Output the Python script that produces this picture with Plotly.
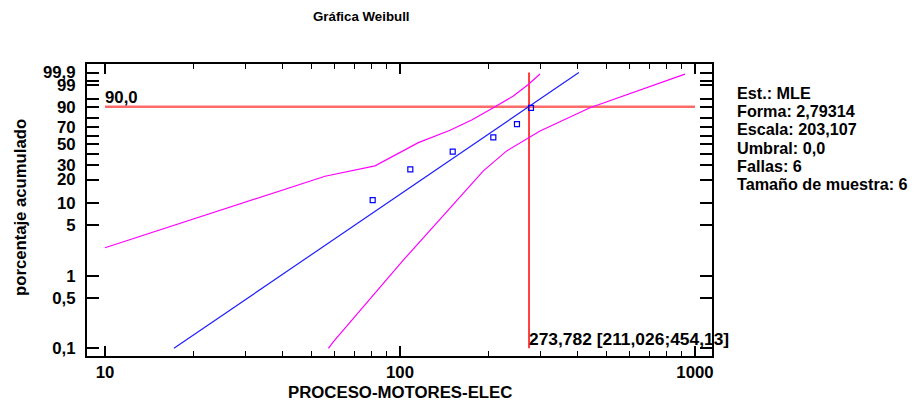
import numpy as np
import plotly.graph_objects as go

# ---- data ----
obs_x = [80.8, 108.4, 150.9, 207.2, 249.2, 278.0]
obs_pct = [10.9, 26.6, 42.2, 57.8, 73.4, 89.1]

fit_x = [17.13, 404.0]
fit_pct = [0.1, 99.9]

upper_x = [10.0, 55.7, 82.3, 115.4, 147.8, 175.0, 207.2, 242.2, 272.2, 298.3]
upper_pct = [2.48, 22.0, 29.3, 51.8, 66.2, 77.8, 89.3, 96.1, 99.1, 99.86]

lower_x = [57.2, 59.4, 102.6, 191.7, 230.0, 298.3, 440.6, 924.8]
lower_pct = [0.1, 0.123, 1.67, 25.6, 42.9, 65.4, 89.3, 99.86]

ref_pct = 90.0
ref_x = 273.782
ref_x_span = [10, 1000]
ref_pct_span = [0.1, 99.9]

y_tick_pct = [0.1, 0.5, 1, 5, 10, 20, 30, 40, 50, 60, 70, 80, 90, 95, 99, 99.5, 99.9]
y_tick_text = ["0,1", "0,5", "1", "5", "10", "20", "30", "", "50", "", "70", "", "90", "", "99", "", "99,9"]
x_tick_vals = [10, 100, 1000]
x_tick_text = ["10", "100", "1000"]
x_minor_vals = [v * m for m in (10, 100) for v in range(2, 10)]

stats_lines = ["Est.: MLE", "Forma: 2,79314", "Escala: 203,107", "Umbral: 0,0",
               "Fallas: 6", "Tamaño de muestra: 6"]


def wy(pct):
    p = np.asarray(pct, dtype=float) / 100.0
    return np.log(-np.log(1.0 - p))


FONT = "Liberation Sans, Arial, sans-serif"
FS = 16.8
fig = go.Figure()

fig.add_trace(go.Scatter(x=ref_x_span, y=wy([ref_pct, ref_pct]), mode="lines",
                         line=dict(color="#ff6b6b", width=2.5), hoverinfo="skip"))
fig.add_trace(go.Scatter(x=[ref_x, ref_x], y=wy(ref_pct_span), mode="lines",
                         line=dict(color="#ff0000", width=1.5), hoverinfo="skip"))
fig.add_trace(go.Scatter(x=upper_x, y=wy(upper_pct), mode="lines",
                         line=dict(color="#ff00ff", width=1.2)))
fig.add_trace(go.Scatter(x=lower_x, y=wy(lower_pct), mode="lines",
                         line=dict(color="#ff00ff", width=1.2)))
fig.add_trace(go.Scatter(x=fit_x, y=wy(fit_pct), mode="lines",
                         line=dict(color="#1f1fff", width=1.2)))
fig.add_trace(go.Scatter(x=obs_x, y=wy(obs_pct), mode="markers",
                         marker=dict(symbol="square-open", size=5, color="#0000ff",
                                     line=dict(width=1.2, color="#0000ff"))))

L, R, T, B = 87, 712, 64, 356
W, H = 921, 404
pw, ph = R - L, B - T


def px_x(px):
    return (px - L) / pw


def px_y(py):
    return (B - py) / ph


ann = []
ann.append(dict(text="Gráfica Weibull", x=px_x(361), y=px_y(17), xref="paper", yref="paper",
                showarrow=False, xanchor="center", yanchor="middle",
                font=dict(size=13.3, family=FONT, color="black", weight="bold")))
ann.append(dict(text="PROCESO-MOTORES-ELEC", x=px_x(400), y=px_y(392), xref="paper", yref="paper",
                showarrow=False, xanchor="center", yanchor="middle",
                font=dict(size=16.8, family=FONT, color="black", weight="bold")))
ann.append(dict(text="porcentaje acumulado", x=px_x(20), y=px_y(208), xref="paper", yref="paper",
                showarrow=False, xanchor="center", yanchor="middle", textangle=-90,
                font=dict(size=16.7, family=FONT, color="black", weight="bold")))
for i, s in enumerate(stats_lines):
    ann.append(dict(text=s, x=px_x(735), y=px_y(93 + i * 18.2), xref="paper", yref="paper",
                    showarrow=False, xanchor="left", yanchor="middle",
                    font=dict(size=16.2, family=FONT, color="black", weight="bold")))
ann.append(dict(text="90,0", x=np.log10(ref_x_span[0]), y=float(wy(ref_pct)), xref="x", yref="y",
                showarrow=False, xanchor="left", yanchor="bottom", xshift=-2, yshift=-2,
                font=dict(size=FS, family=FONT, color="black", weight="bold")))
ann.append(dict(text="273,782 [211,026;454,13]", x=np.log10(ref_x), y=px_y(339), xref="x", yref="paper",
                showarrow=False, xanchor="left", yanchor="middle", xshift=-2,
                font=dict(size=17.4, family=FONT, color="black", weight="bold")))

axis_common = dict(showgrid=False, zeroline=False, showline=True, linecolor="black", linewidth=2,
                   mirror="ticks", ticks="inside", tickcolor="black",
                   tickfont=dict(size=FS, family=FONT, color="black", weight="bold"))

fig.update_layout(
    width=W, height=H, margin=dict(l=L, r=W - R, t=T, b=H - B),
    paper_bgcolor="white", plot_bgcolor="white", showlegend=False,
    annotations=ann,
    xaxis=dict(type="log", range=[np.log10(8.69), np.log10(1142)], tickmode="array",
               tickvals=x_tick_vals, ticktext=x_tick_text, ticklen=10, tickwidth=1.5,
               minor=dict(tickmode="array", tickvals=x_minor_vals, ticks="inside", ticklen=5,
                          tickwidth=1, tickcolor="black"),
               **axis_common),
    yaxis=dict(range=[-7.154, 2.205], tickmode="array", tickvals=wy(y_tick_pct).tolist(),
               ticktext=y_tick_text, ticklen=12, tickwidth=1.5, ticklabelstandoff=6,
               **axis_common),
)

fig.write_html("out.html")
